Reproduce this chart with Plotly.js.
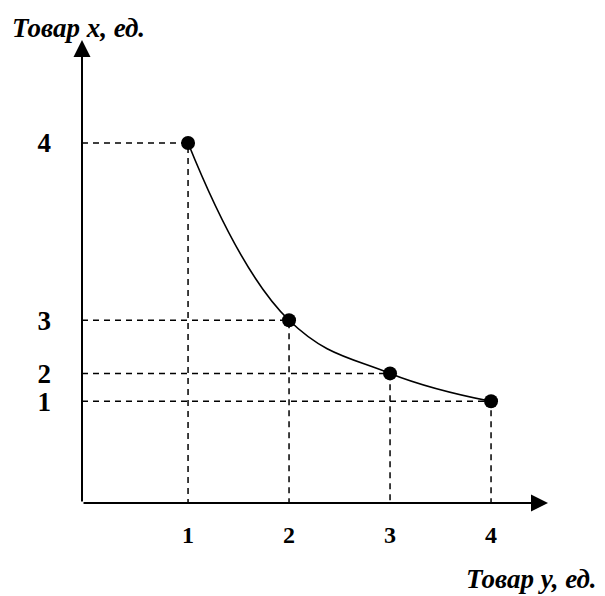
<!DOCTYPE html>
<html>
<head>
<meta charset="utf-8">
<script src="https://cdn.plot.ly/plotly-3.0.1.min.js"></script>
<style>html,body{margin:0;padding:0;background:#fff;}#chart{width:605px;height:596px;}</style>
</head>
<body>
<div id="chart"></div>
<script>
// Quantities of good y (horizontal axis)
const goodY = [1, 2, 3, 4];
const goodYLabels = ['1', '2', '3', '4'];
// Levels at which the points of good x are drawn (schematic)
const goodXLevel = [4.0, 2.03, 1.44, 1.13];
const goodXLabels = ['4', '3', '2', '1'];

const xTitle = 'Товар y, ед.';
const yTitle = 'Товар x, ед.';

const xMax = 4.564, xMin = -0.05, yMax = 5.144;

const traces = [];
// dashed guide lines
for (let i = 0; i < goodY.length; i++) {
  traces.push({
    x: [xMin, goodY[i], goodY[i]],
    y: [goodXLevel[i], goodXLevel[i], 0],
    mode: 'lines', type: 'scatter', hoverinfo: 'skip',
    line: {color: '#000', width: 1.5, dash: '6px,5px'}
  });
}
// indifference curve
traces.push({
  x: goodY, y: goodXLevel, mode: 'lines', type: 'scatter',
  line: {color: '#000', width: 1.6, shape: 'spline', smoothing: 1.2}
});
// points
traces.push({
  x: goodY, y: goodXLevel, mode: 'markers', type: 'scatter',
  marker: {color: '#000', size: 14}
});

const yTickFont = {family: 'Liberation Serif', size: 27, color: '#000', weight: 'bold'};
const xTickFont = {family: 'Liberation Serif', size: 24, color: '#000', weight: 'bold'};

const layout = {
  width: 605, height: 596,
  margin: {l: 82, r: 57, t: 40, b: 93},
  paper_bgcolor: '#fff', plot_bgcolor: '#fff',
  showlegend: false,
  xaxis: {
    range: [xMin, xMax], showgrid: false, zeroline: false, showline: false,
    tickmode: 'array', tickvals: goodY, ticktext: goodYLabels,
    ticks: '', ticklabelstandoff: 15, tickfont: xTickFont, fixedrange: true
  },
  yaxis: {
    range: [0, yMax], showgrid: false, zeroline: false, showline: false,
    tickmode: 'array', tickvals: goodXLevel, ticktext: goodXLabels,
    ticks: '', ticklabelstandoff: 30, tickfont: yTickFont, fixedrange: true
  },
  annotations: [
    // x axis with arrow
    {x: xMax, y: 0, ax: xMin, ay: 0, xref: 'x', yref: 'y', axref: 'x', ayref: 'y',
     text: '', showarrow: true, arrowhead: 2, arrowsize: 1.7, arrowwidth: 2, arrowcolor: '#000'},
    // y axis with arrow
    {x: xMin, y: yMax, ax: xMin, ay: 0, xref: 'x', yref: 'y', axref: 'x', ayref: 'y',
     text: '', showarrow: true, arrowhead: 2, arrowsize: 1.7, arrowwidth: 2, arrowcolor: '#000'},
    {x: 10, y: 28, xref: 'paper', yref: 'paper', text: '<b><i>' + yTitle + '</i></b>',
     showarrow: false, xanchor: 'left', yanchor: 'middle',
     font: {family: 'Liberation Serif', size: 27, color: '#000'}},
    {x: 599, y: 579, xref: 'paper', yref: 'paper', text: '<b><i>' + xTitle + '</i></b>',
     showarrow: false, xanchor: 'right', yanchor: 'middle',
     font: {family: 'Liberation Serif', size: 27, color: '#000'}}
  ]
};
// convert pixel placements of the title annotations to paper coords
layout.annotations.forEach(a => {
  if (a.xref === 'paper') {
    const pw = 605 - layout.margin.l - layout.margin.r;
    const ph = 596 - layout.margin.t - layout.margin.b;
    a.x = (a.x - layout.margin.l) / pw;
    a.y = (596 - layout.margin.b - a.y) / ph;
  }
});

Plotly.newPlot('chart', traces, layout, {displayModeBar: false, staticPlot: true});
</script>
</body>
</html>
